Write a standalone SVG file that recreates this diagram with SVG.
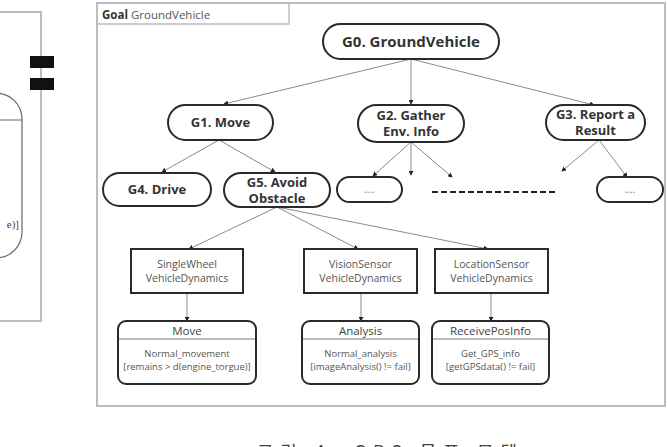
<svg xmlns="http://www.w3.org/2000/svg" width="667" height="447" viewBox="0 0 667 447">
  <defs>
    <marker id="tip" viewBox="0 0 6 6" refX="5" refY="3" markerWidth="5" markerHeight="5" orient="auto" markerUnits="userSpaceOnUse">
      <path d="M0,0 L6,3 L0,6 z" fill="#222"/>
    </marker>
    <style>
      .frame { fill: none; stroke: #bdbdbd; stroke-width: 2; }
      .goal rect { fill: #fff; stroke: #2a2a2a; stroke-width: 2; }
      .goal text { font-family: "Open Sans", "Noto Sans", sans-serif; font-weight: bold; font-size: 13px; fill: #333; text-anchor: middle; }
      .goal .dots { font-weight: normal; font-size: 10px; fill: #777; }
      .comp rect { fill: #fff; stroke: #2a2a2a; stroke-width: 2; }
      .comp text, .state text { font-family: "Open Sans", "Noto Sans", sans-serif; font-size: 10.5px; fill: #555; text-anchor: middle; }
      .state rect { fill: #fff; stroke: #2a2a2a; stroke-width: 2; }
      .state line { stroke: #777; stroke-width: 1; }
      .state .title { font-size: 11.5px; fill: #444; }
      .state .body { font-size: 9.5px; }
      .link { stroke: #8a8a8a; stroke-width: 1; fill: none; marker-end: url(#tip); }
    </style>
  </defs>

  <rect width="667" height="447" fill="#fff"/>

  <!-- neighbouring panel on the left, partly in view -->
  <g id="left-panel">
    <rect x="-10" y="12" width="51" height="309" class="frame"/>
    <rect x="-100" y="93" width="122" height="165" rx="26" fill="none" stroke="#666" stroke-width="1.2"/>
    <line x1="-10" y1="120" x2="22" y2="120" stroke="#666" stroke-width="1"/>
    <text x="19" y="228" font-family="Liberation Serif, serif" font-size="11" fill="#444" text-anchor="end">e)]</text>
    <rect x="30" y="56" width="24" height="12" fill="#111"/>
    <rect x="30" y="78" width="24" height="12" fill="#111"/>
  </g>

  <!-- goal model frame -->
  <g id="goal-frame">
    <rect x="97" y="3" width="568" height="403" class="frame"/>
    <path d="M97,24 H289 V3" fill="none" stroke="#bdbdbd" stroke-width="1.5"/>
    <text x="102" y="19" font-family="Open Sans, Noto Sans, sans-serif" font-size="11.5px" fill="#333"><tspan font-weight="bold">Goal</tspan> <tspan fill="#555">GroundVehicle</tspan></text>
  </g>

  <!-- connectors -->
  <g id="connectors">
    <line class="link" x1="411" y1="59" x2="224" y2="104"/>
    <line class="link" x1="411" y1="59" x2="411" y2="104"/>
    <line class="link" x1="411" y1="59" x2="594" y2="105"/>
    <line class="link" x1="219" y1="140" x2="162" y2="172"/>
    <line class="link" x1="219" y1="140" x2="275" y2="172"/>
    <line class="link" x1="411" y1="142" x2="373" y2="176"/>
    <line class="link" x1="411" y1="142" x2="411" y2="175"/>
    <line class="link" x1="411" y1="142" x2="452" y2="177"/>
    <line class="link" x1="599" y1="140" x2="562" y2="171"/>
    <line class="link" x1="599" y1="140" x2="627" y2="177"/>
    <line class="link" x1="277" y1="207" x2="189" y2="249"/>
    <line class="link" x1="277" y1="207" x2="358" y2="249"/>
    <line class="link" x1="277" y1="207" x2="488" y2="249"/>
    <line class="link" x1="187" y1="293" x2="187" y2="321"/>
    <line class="link" x1="361" y1="293" x2="361" y2="321"/>
    <line class="link" x1="491" y1="293" x2="491" y2="321"/>
    <line x1="432" y1="192" x2="558" y2="192" stroke="#222" stroke-width="2" stroke-dasharray="6 3"/>
  </g>

  <!-- goals -->
  <g id="G0" class="goal">
    <rect x="323" y="24" width="176" height="35" rx="17.5"/>
    <text x="411" y="47" style="font-size:15px">G0. GroundVehicle</text>
  </g>
  <g id="G1" class="goal">
    <rect x="168" y="105" width="105" height="35" rx="17.5"/>
    <text x="220.5" y="127">G1. Move</text>
  </g>
  <g id="G2" class="goal">
    <rect x="358" y="105" width="106" height="37" rx="18.5"/>
    <text x="411" y="120">G2. Gather</text>
    <text x="411" y="135.5">Env. Info</text>
  </g>
  <g id="G3" class="goal">
    <rect x="546" y="105" width="99" height="35" rx="17.5"/>
    <text x="595.5" y="119">G3. Report a</text>
    <text x="595.5" y="134.5">Result</text>
  </g>
  <g id="G4" class="goal">
    <rect x="103" y="173" width="108" height="33" rx="16.5"/>
    <text x="157" y="194">G4. Drive</text>
  </g>
  <g id="G5" class="goal">
    <rect x="224" y="173" width="106" height="34" rx="17"/>
    <text x="277" y="187">G5. Avoid</text>
    <text x="277" y="202.5">Obstacle</text>
  </g>
  <g id="G2-sub" class="goal">
    <rect x="337" y="177" width="65" height="25" rx="12.5"/>
    <text class="dots" x="369.5" y="193">....</text>
  </g>
  <g id="G3-sub" class="goal">
    <rect x="597" y="177" width="66" height="25" rx="12.5"/>
    <text class="dots" x="630" y="193">....</text>
  </g>

  <!-- components -->
  <g id="SingleWheelVehicleDynamics" class="comp">
    <rect x="131" y="249" width="112" height="44"/>
    <text x="187" y="268">SingleWheel</text>
    <text x="187" y="282">VehicleDynamics</text>
  </g>
  <g id="VisionSensorVehicleDynamics" class="comp">
    <rect x="304" y="249" width="113" height="44"/>
    <text x="360.5" y="268">VisionSensor</text>
    <text x="360.5" y="282">VehicleDynamics</text>
  </g>
  <g id="LocationSensorVehicleDynamics" class="comp">
    <rect x="435" y="249" width="113" height="44"/>
    <text x="491.5" y="268">LocationSensor</text>
    <text x="491.5" y="282">VehicleDynamics</text>
  </g>

  <!-- behaviours -->
  <g id="Move" class="state">
    <rect x="118" y="321" width="138" height="63" rx="8"/>
    <line x1="119" y1="339" x2="255" y2="339"/>
    <text class="title" x="187" y="335">Move</text>
    <text class="body" x="187" y="357">Normal_movement</text>
    <text class="body" x="187" y="370">[remains &gt; d(engine_torgue)]</text>
  </g>
  <g id="Analysis" class="state">
    <rect x="302" y="321" width="117" height="63" rx="8"/>
    <line x1="303" y1="339" x2="418" y2="339"/>
    <text class="title" x="360.5" y="335">Analysis</text>
    <text class="body" x="360.5" y="357">Normal_analysis</text>
    <text class="body" x="360.5" y="370">[imageAnalysis() != fail]</text>
  </g>
  <g id="ReceivePosInfo" class="state">
    <rect x="432" y="321" width="117" height="63" rx="8"/>
    <line x1="433" y1="339" x2="548" y2="339"/>
    <text class="title" x="490.5" y="335">ReceivePosInfo</text>
    <text class="body" x="490.5" y="357">Get_GPS_info</text>
    <text class="body" x="490.5" y="370">[getGPSdata() != fail]</text>
  </g>

  <!-- caption, cut by the lower edge -->
  <text x="257" y="459" font-family="Noto Sans CJK KR, sans-serif" font-size="18" fill="#444" textLength="260" lengthAdjust="spacing">그림 4. GBS 목표 모델</text>
</svg>
